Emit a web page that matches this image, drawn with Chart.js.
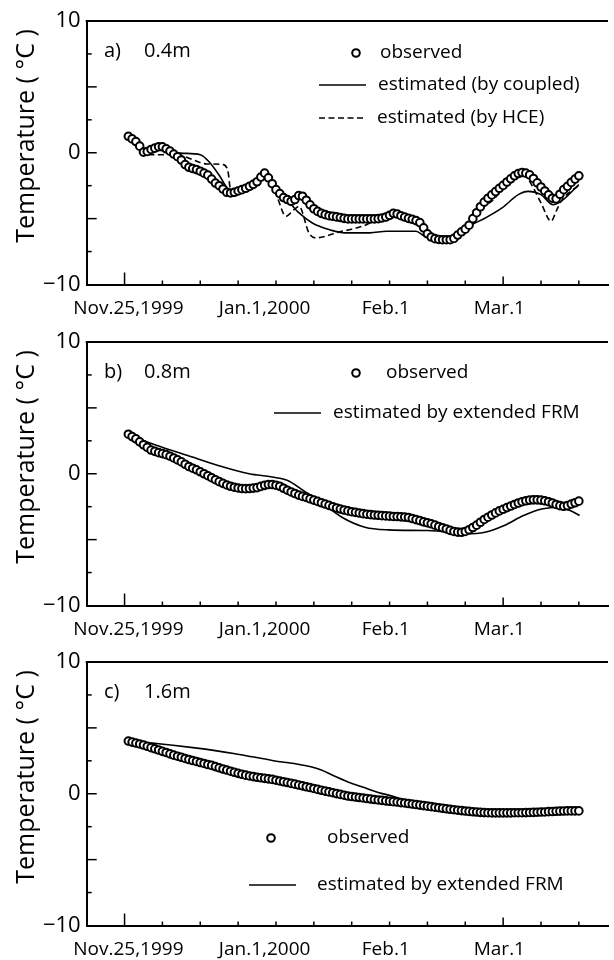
<!DOCTYPE html>
<html>
<head>
<meta charset="utf-8">
<script src="https://cdn.jsdelivr.net/npm/chart.js@4.4.1/dist/chart.umd.min.js"></script>
<style>
  html, body { margin: 0; padding: 0; background: #fff; width: 614px; height: 960px; overflow: hidden; }
  .panel { position: absolute; left: 0; width: 614px; height: 320px; }
</style>
</head>
<body>
<div class="panel" style="top:-1px"><canvas id="chartA" width="614" height="320"></canvas></div>
<div class="panel" style="top:320px"><canvas id="chartB" width="614" height="320"></canvas></div>
<div class="panel" style="top:640px"><canvas id="chartC" width="614" height="320"></canvas></div>
<script>
// Soil temperature at three depths (x = days since Nov.25,1999)

// ── axis ticks ───────────────────────────────────────────────────
const X_LABEL_DAYS = [1, 37, 69, 99];
const X_LABELS = ['Nov.25,1999', 'Jan.1,2000', 'Feb.1', 'Mar.1'];
const X_MARKS = [0, 10, 20, 30, 40, 50, 60, 70, 80, 90, 100, 110, 120];
const X_MAJOR_MARKS = [0, 100];
const Y_MARKS = [7.5, 5, 2.5, 0, -2.5, -5, -7.5];
const Y_MAJOR_MARKS = [5, 0, -5];

// daily observation days
const OBS_DAYS = [
  1, 2, 3, 4, 5, 6, 7, 8, 9, 10, 11, 12, 13, 14, 15, 16, 17, 18, 19, 20,
  21, 22, 23, 24, 25, 26, 27, 28, 29, 30, 31, 32, 33, 34, 35, 36, 37, 38, 39, 40,
  41, 42, 43, 44, 45, 46, 47, 48, 49, 50, 51, 52, 53, 54, 55, 56, 57, 58, 59, 60,
  61, 62, 63, 64, 65, 66, 67, 68, 69, 70, 71, 72, 73, 74, 75, 76, 77, 78, 79, 80,
  81, 82, 83, 84, 85, 86, 87, 88, 89, 90, 91, 92, 93, 94, 95, 96, 97, 98, 99, 100,
  101, 102, 103, 104, 105, 106, 107, 108, 109, 110, 111, 112, 113, 114, 115, 116, 117, 118, 119, 120];

// ── a) 0.4m ──────────────────────────────────────────────────────
const obsA_temp = [
  1.25, 1.05, 0.85, 0.5, 0.05, 0.1, 0.25, 0.35, 0.45, 0.45, 0.3, 0.12, -0.1, -0.3, -0.55, -0.9, -1.1, -1.2, -1.28, -1.4,
  -1.55, -1.7, -2.0, -2.3, -2.5, -2.75, -3.0, -3.05, -3.0, -2.9, -2.8, -2.7, -2.55, -2.4, -2.2, -1.85, -1.55, -1.9, -2.35, -2.8,
  -3.1, -3.4, -3.55, -3.68, -3.55, -3.25, -3.3, -3.6, -3.95, -4.25, -4.45, -4.6, -4.7, -4.78, -4.82, -4.87, -4.92, -4.98, -5.02, -5.02,
  -5.02, -5.02, -5.02, -5.02, -5.02, -5.02, -5.0, -4.95, -4.88, -4.75, -4.6, -4.65, -4.78, -4.88, -4.98, -5.05, -5.15, -5.3, -5.7, -6.15,
  -6.4, -6.52, -6.58, -6.6, -6.6, -6.6, -6.5, -6.25, -6.0, -5.8, -5.5, -5.0, -4.55, -4.1, -3.75, -3.45, -3.2, -2.95, -2.7, -2.48,
  -2.22, -1.98, -1.75, -1.58, -1.5, -1.55, -1.68, -1.95, -2.28, -2.6, -2.9, -3.2, -3.45, -3.5, -3.15, -2.8, -2.55, -2.25, -2.0, -1.75];

const coupledA_days = [1, 5, 9, 14.8, 20, 22.6, 25.2, 27.4, 29, 33, 37, 40, 43, 46.1, 49.6, 54, 58.3, 64.8, 69.2, 77,
  79, 82, 86.8, 91, 95.3, 99.7, 104, 106.6, 110, 113.2, 115.3, 120];
const coupledA_temp = [1.3, 0.3, 0.3, -0.03, -0.15, -0.78, -1.8, -2.8, -3.05, -2.5, -1.8, -2.8, -3.6, -4.57, -5.33, -5.83, -6.08, -6.08, -5.96, -5.96,
  -6.3, -6.6, -6.5, -5.58, -4.95, -4.19, -3.18, -2.93, -3.18, -3.94, -3.69, -2.42];

const hceA_days = [1, 3.5, 5.5, 9.7, 12, 15.7, 21.8, 26.1, 27.4, 27.9, 29.5, 33, 36, 37, 38.5, 40.5, 42.6, 44.8, 46.1, 48.7,
  50.5, 53.1, 55.7, 60, 64, 66.6, 70, 72, 75, 77, 79, 81, 85, 88, 91, 94, 97.3, 100, 103, 105,
  107.5, 110, 112.7, 114, 115.3, 117.5, 120];
const hceA_temp = [1.3, 0.7, -0.1, -0.15, -0.1, -0.28, -0.85, -0.9, -1.54, -2.67, -3.0, -2.5, -1.8, -1.29, -2.0, -3.5, -4.82, -4.32, -4.07, -6.08,
  -6.46, -6.34, -6.08, -5.8, -5.45, -5.02, -4.8, -4.6, -5.1, -5.15, -5.7, -6.45, -6.6, -6.4, -5.6, -4.3, -3.6, -2.7, -1.85, -1.55,
  -2.42, -3.81, -5.2, -4.44, -3.69, -3.0, -2.5];

// ── b) 0.8m ──────────────────────────────────────────────────────
const obsB_temp = [
  3.0, 2.82, 2.65, 2.42, 2.2, 2.0, 1.8, 1.7, 1.6, 1.53, 1.45, 1.33, 1.2, 1.05, 0.9, 0.72, 0.55, 0.42, 0.3, 0.15,
  0.0, -0.15, -0.3, -0.45, -0.6, -0.73, -0.85, -0.95, -1.02, -1.08, -1.12, -1.13, -1.12, -1.09, -1.05, -0.96, -0.88, -0.82, -0.82, -0.87,
  -0.95, -1.1, -1.25, -1.38, -1.5, -1.62, -1.72, -1.8, -1.9, -2.0, -2.1, -2.2, -2.3, -2.4, -2.5, -2.6, -2.68, -2.75, -2.82, -2.88,
  -2.93, -2.98, -3.03, -3.07, -3.1, -3.13, -3.15, -3.18, -3.2, -3.22, -3.24, -3.25, -3.27, -3.29, -3.32, -3.4, -3.48, -3.56, -3.65, -3.72,
  -3.8, -3.9, -4.0, -4.1, -4.19, -4.3, -4.38, -4.43, -4.44, -4.38, -4.25, -4.08, -3.9, -3.68, -3.47, -3.3, -3.13, -2.97, -2.82, -2.7,
  -2.57, -2.45, -2.33, -2.22, -2.12, -2.05, -2.0, -1.98, -1.98, -2.0, -2.05, -2.12, -2.22, -2.33, -2.42, -2.47, -2.42, -2.3, -2.2, -2.08];

const frmB_days = [0.7, 8.4, 16.5, 24.7, 32.9, 39, 43.1, 47.2, 51.3, 57.4, 63.5, 69.7, 79.9, 85, 90.1, 95.2, 100.3, 105.4, 110.5, 114.6, 117.7, 120.2];
const frmB_temp = [3.0, 2.16, 1.4, 0.63, 0.0, -0.25, -0.51, -1.27, -2.03, -3.3, -4.06, -4.26, -4.31, -4.39, -4.57, -4.44, -3.93, -3.17, -2.66, -2.54, -2.79, -3.17];

// ── c) 1.6m ──────────────────────────────────────────────────────
const obsC_temp = [
  4.0, 3.92, 3.85, 3.78, 3.7, 3.6, 3.5, 3.41, 3.32, 3.22, 3.13, 3.03, 2.93, 2.85, 2.77, 2.68, 2.6, 2.52, 2.45, 2.37,
  2.3, 2.22, 2.15, 2.06, 1.97, 1.88, 1.8, 1.71, 1.63, 1.55, 1.48, 1.41, 1.35, 1.3, 1.25, 1.21, 1.17, 1.13, 1.09, 1.03,
  0.97, 0.91, 0.85, 0.79, 0.73, 0.66, 0.6, 0.53, 0.47, 0.4, 0.33, 0.26, 0.2, 0.14, 0.08, 0.01, -0.05, -0.11, -0.17, -0.21,
  -0.25, -0.29, -0.32, -0.36, -0.4, -0.44, -0.47, -0.5, -0.54, -0.57, -0.6, -0.63, -0.67, -0.7, -0.74, -0.78, -0.82, -0.86, -0.9, -0.94,
  -0.98, -1.02, -1.06, -1.1, -1.14, -1.18, -1.21, -1.25, -1.28, -1.31, -1.34, -1.37, -1.39, -1.41, -1.43, -1.44, -1.45, -1.45, -1.45, -1.45,
  -1.45, -1.45, -1.44, -1.44, -1.44, -1.43, -1.42, -1.41, -1.4, -1.39, -1.38, -1.36, -1.35, -1.33, -1.32, -1.31, -1.3, -1.3, -1.3, -1.3];

const frmC_days = [0.7, 8.4, 18.6, 28.8, 39, 49.2, 52, 55.4, 59, 63.5, 67, 70.7, 74.8, 80, 90, 100, 110, 120];
const frmC_temp = [4.0, 3.81, 3.48, 3.06, 2.53, 2.05, 1.8, 1.34, 0.9, 0.45, 0.1, -0.18, -0.56, -0.93, -1.31, -1.44, -1.4, -1.3];

const FONT = "'Open Sans', 'DejaVu Sans', sans-serif";

function pts(xs, ys) {
  return xs.map((x, i) => ({ x: x, y: ys[i] }));
}

function observedSet(days, temps) {
  return {
    label: 'observed',
    data: pts(days, temps),
    showLine: false,
    pointStyle: 'circle',
    pointRadius: 3.8,
    pointBorderWidth: 2,
    pointBorderColor: '#000',
    pointBackgroundColor: '#fff',
    order: 0,
  };
}

function lineSet(label, days, temps, dash) {
  return {
    label: label,
    data: pts(days, temps),
    showLine: true,
    borderColor: '#000',
    borderWidth: 1.6,
    borderDash: dash || [],
    pointRadius: 0,
    cubicInterpolationMode: 'monotone',
    order: 1,
  };
}

// frame: top border, inward tick marks, panel label, legend, y title
const framePlugin = {
  id: 'frame',
  afterDraw(chart, args, opts) {
    const { ctx, chartArea: a, scales: { x, y } } = chart;
    ctx.save();
    ctx.strokeStyle = '#000';
    ctx.fillStyle = '#000';

    ctx.lineWidth = 2;
    ctx.beginPath();
    ctx.moveTo(a.left - 1, a.top);
    ctx.lineTo(a.right, a.top);
    ctx.stroke();

    ctx.lineWidth = 1.5;
    X_MARKS.forEach(d => {
      const px = x.getPixelForValue(d);
      const len = d === X_MAJOR_MARKS[0] ? 12 : X_MAJOR_MARKS.includes(d) ? 8 : 4;
      ctx.beginPath();
      ctx.moveTo(px, a.bottom);
      ctx.lineTo(px, a.bottom - len);
      ctx.stroke();
    });
    Y_MARKS.forEach(v => {
      const py = y.getPixelForValue(v);
      const len = Y_MAJOR_MARKS.includes(v) ? 10 : 5;
      ctx.beginPath();
      ctx.moveTo(a.left, py);
      ctx.lineTo(a.left + len, py);
      ctx.stroke();
    });

    // y title
    ctx.save();
    ctx.translate(27, a.top + 115);
    ctx.rotate(-Math.PI / 2);
    ctx.font = '25px ' + FONT;
    ctx.textAlign = 'center';
    ctx.textBaseline = 'middle';
    ctx.fillText('Temperature ( \u00B0C )', 0, 0);
    ctx.restore();

    // panel label
    ctx.font = '20px ' + FONT;
    ctx.textAlign = 'left';
    ctx.textBaseline = 'middle';
    ctx.fillText(opts.tag, 104, a.top + 30);
    ctx.fillText(opts.depth, 144, a.top + 30);

    // legend
    ctx.font = '19px ' + FONT;
    opts.legend.forEach(item => {
      ctx.setLineDash([]);
      if (item.kind === 'circle') {
        ctx.lineWidth = 2;
        ctx.beginPath();
        ctx.arc(item.x, item.y, 3.8, 0, Math.PI * 2);
        ctx.stroke();
      } else {
        ctx.lineWidth = 1.6;
        if (item.kind === 'dash') ctx.setLineDash([6, 3.5]);
        ctx.beginPath();
        ctx.moveTo(item.x, item.y);
        ctx.lineTo(item.x2, item.y);
        ctx.stroke();
      }
      ctx.setLineDash([]);
      ctx.fillText(item.text, item.tx, item.y);
    });
    ctx.restore();
  }
};

function makeChart(id, datasets, frameOpts) {
  const ctx = document.getElementById(id).getContext('2d');
  return new Chart(ctx, {
    type: 'scatter',
    data: { datasets: datasets },
    options: {
      responsive: false,
      animation: false,
      layout: { padding: { top: 22, left: 0, right: 0, bottom: 0 } },
      plugins: {
        legend: { display: false },
        tooltip: { enabled: false },
        frame: frameOpts,
      },
      scales: {
        x: {
          type: 'linear',
          min: -10,
          max: 127.7,
          afterFit: s => { s.height = 34.5; },
          afterBuildTicks: s => { s.ticks = X_LABEL_DAYS.map(v => ({ value: v })); },
          ticks: {
            autoSkip: false,
            maxRotation: 0,
            padding: 13,
            color: '#000',
            font: { family: FONT, size: 19 },
            callback: (v) => X_LABELS[X_LABEL_DAYS.indexOf(v)] || '',
          },
          grid: { display: false, drawTicks: false },
          border: { display: true, color: '#000', width: 2 },
        },
        y: {
          min: -10,
          max: 10,
          afterFit: s => { s.width = 86.7; },
          ticks: {
            stepSize: 10,
            padding: 6,
            color: '#000',
            font: { family: FONT, size: 22 },
            callback: v => (v < 0 ? '\u2212' + Math.abs(v) : String(v)),
          },
          grid: { display: false, drawTicks: false },
          border: { display: true, color: '#000', width: 2 },
        }
      }
    },
    plugins: [framePlugin]
  });
}

makeChart('chartA', [
  observedSet(OBS_DAYS, obsA_temp),
  lineSet('estimated (by coupled)', coupledA_days, coupledA_temp),
  lineSet('estimated (by HCE)', hceA_days, hceA_temp, [6, 3.5]),
], {
  tag: 'a)', depth: '0.4m',
  legend: [
    { kind: 'circle', x: 356, y: 54, text: 'observed', tx: 380 },
    { kind: 'line', x: 319, x2: 366, y: 86, text: 'estimated (by coupled)', tx: 378 },
    { kind: 'dash', x: 319, x2: 366, y: 119, text: 'estimated (by HCE)', tx: 377 },
  ]
});

makeChart('chartB', [
  observedSet(OBS_DAYS, obsB_temp),
  lineSet('estimated by extended FRM', frmB_days, frmB_temp),
], {
  tag: 'b)', depth: '0.8m',
  legend: [
    { kind: 'circle', x: 356, y: 53, text: 'observed', tx: 386 },
    { kind: 'line', x: 274, x2: 321, y: 93, text: 'estimated by extended FRM', tx: 333 },
  ]
});

makeChart('chartC', [
  observedSet(OBS_DAYS, obsC_temp),
  lineSet('estimated by extended FRM', frmC_days, frmC_temp),
], {
  tag: 'c)', depth: '1.6m',
  legend: [
    { kind: 'circle', x: 271, y: 198, text: 'observed', tx: 327 },
    { kind: 'line', x: 249, x2: 296, y: 245, text: 'estimated by extended FRM', tx: 317 },
  ]
});
</script>
</body>
</html>
